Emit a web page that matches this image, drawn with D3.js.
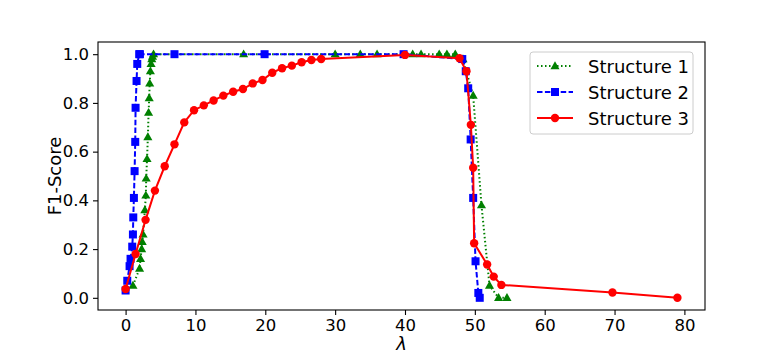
<!DOCTYPE html>
<html>
<head>
<meta charset="utf-8">
<script src="https://cdn.jsdelivr.net/npm/d3@7"></script>
<style>
  body { margin: 0; background: #fff; }
  text { font-family: "DejaVu Sans", sans-serif; }
</style>
</head>
<body>
<svg></svg>
<script>
// Structure 1 (green triangles)
const s1X = [1.05, 2.0, 2.14, 2.3, 2.38, 2.5, 2.76, 2.9, 2.95, 3.07, 3.19, 3.29, 3.38, 3.45, 3.55, 3.65, 3.75, 3.85, 4.0, 16.9, 30, 33.6, 36, 41.1, 42.3, 44.9, 46, 47.2, 48.3, 49.76, 50.95, 52.1, 53.4, 54.6];
const s1Y = [0.05, 0.12, 0.16, 0.2, 0.23, 0.26, 0.36, 0.42, 0.49, 0.57, 0.66, 0.76, 0.82, 0.88, 0.93, 0.96, 0.98, 0.99, 1.0, 1.0, 1.0, 1.0, 1.0, 1.0, 1.0, 1.0, 1.0, 1.0, 0.98, 0.83, 0.38, 0.05, 0.0, 0.0];

// Structure 2 (blue squares)
const s2X = [0, 0.24, 0.57, 0.71, 0.95, 1.05, 1.1, 1.19, 1.29, 1.38, 1.43, 1.57, 1.67, 1.95, 2.05, 7, 19.9, 39.8, 48.2, 48.7, 49.05, 49.4, 49.76, 50.1, 50.5, 50.7];
const s2Y = [0.03, 0.07, 0.13, 0.16, 0.21, 0.26, 0.33, 0.41, 0.52, 0.64, 0.78, 0.89, 0.96, 1.0, 1.0, 1.0, 1.0, 1.0, 0.98, 0.93, 0.86, 0.65, 0.41, 0.15, 0.02, 0.0];

// Structure 3 (red circles)
const s3X = [0, 1.43, 2.86, 4.2, 5.6, 7, 8.4, 9.8, 11.2, 12.6, 14, 15.4, 16.8, 18.2, 19.6, 21, 22.4, 23.8, 25.2, 26.6, 28, 40, 47.8, 48.8, 49.43, 49.76, 49.9, 51.76, 52.7, 53.8, 69.7, 79];
const s3Y = [0.036, 0.18, 0.32, 0.44, 0.54, 0.63, 0.72, 0.77, 0.79, 0.81, 0.83, 0.846, 0.857, 0.88, 0.894, 0.924, 0.942, 0.953, 0.967, 0.976, 0.98, 0.997, 0.983, 0.93, 0.71, 0.534, 0.224, 0.137, 0.087, 0.053, 0.022, 0.0];

const xTicks = [0, 10, 20, 30, 40, 50, 60, 70, 80];
const yTicks = [0.0, 0.2, 0.4, 0.6, 0.8, 1.0];

const series = [
  { name: "Structure 1", xs: s1X, ys: s1Y, color: "#008000", dash: "1.5,2.5", marker: "triangle" },
  { name: "Structure 2", xs: s2X, ys: s2Y, color: "#0000ff", dash: "5.5,2.4", marker: "square" },
  { name: "Structure 3", xs: s3X, ys: s3Y, color: "#ff0000", dash: null, marker: "circle" }
];

const W = 781, H = 355;
const mLeft = 98, mRight = 705, mTop = 42, mBottom = 310;

const svg = d3.select("svg").attr("width", W).attr("height", H);

const x = d3.scaleLinear().domain([-3.95, 82.95]).range([mLeft, mRight]);
const y = d3.scaleLinear().domain([-0.05, 1.05]).range([mBottom, mTop]);

// axes
const xAxis = svg.append("g")
  .attr("transform", `translate(0,${mBottom})`)
  .call(d3.axisBottom(x).tickValues(xTicks).tickFormat(d3.format("d")).tickSize(5).tickPadding(4));
const yAxis = svg.append("g")
  .attr("transform", `translate(${mLeft},0)`)
  .call(d3.axisLeft(y).tickValues(yTicks).tickFormat(d3.format(".1f")).tickSize(5).tickPadding(4));

[xAxis, yAxis].forEach(a => {
  a.select(".domain").remove();
  a.selectAll("line").attr("stroke", "#000").attr("stroke-width", 1.1);
  a.selectAll("text").attr("font-size", 16.5).attr("fill", "#000")
    .style("font-family", "DejaVu Sans, sans-serif");
});

svg.append("rect")
  .attr("x", mLeft).attr("y", mTop)
  .attr("width", mRight - mLeft).attr("height", mBottom - mTop)
  .attr("fill", "none").attr("stroke", "#000").attr("stroke-width", 1.1);

// axis labels
svg.append("text")
  .attr("x", (mLeft + mRight) / 2).attr("y", 350)
  .attr("text-anchor", "middle").attr("font-size", 18).attr("font-style", "italic")
  .text("λ");
svg.append("text")
  .attr("transform", `translate(61,${(mTop + mBottom) / 2}) rotate(-90)`)
  .attr("text-anchor", "middle").attr("font-size", 18)
  .text("F1-Score");

function drawMarker(g, type, color) {
  if (type === "circle") {
    g.append("circle").attr("r", 4.2).attr("fill", color);
  } else if (type === "square") {
    g.append("rect").attr("x", -4).attr("y", -4).attr("width", 8).attr("height", 8).attr("fill", color);
  } else {
    g.append("path").attr("d", d3.symbol().type(d3.symbolTriangle).size(36)()).attr("fill", color)
      .attr("transform", "translate(0,0.5)");
  }
}

const line = d3.line().x(d => x(d[0])).y(d => y(d[1]));

series.forEach(s => {
  const pts = s.xs.map((v, i) => [v, s.ys[i]]);
  svg.append("path")
    .attr("d", line(pts))
    .attr("fill", "none")
    .attr("stroke", s.color)
    .attr("stroke-width", 2)
    .attr("stroke-dasharray", s.dash);
  pts.forEach(p => {
    const g = svg.append("g").attr("transform", `translate(${x(p[0])},${y(p[1])})`);
    drawMarker(g, s.marker, s.color);
  });
});

// legend
const lg = svg.append("g").attr("transform", "translate(530,52)");
lg.append("rect").attr("width", 163).attr("height", 82).attr("rx", 3)
  .attr("fill", "#fff").attr("fill-opacity", 0.8).attr("stroke", "#ccc");
series.forEach((s, i) => {
  const yy = 14 + i * 26;
  lg.append("line").attr("x1", 7).attr("x2", 43).attr("y1", yy).attr("y2", yy)
    .attr("stroke", s.color).attr("stroke-width", 2).attr("stroke-dasharray", s.dash);
  const g = lg.append("g").attr("transform", `translate(25,${yy})`);
  drawMarker(g, s.marker, s.color);
  lg.append("text").attr("x", 58).attr("y", yy + 6.5).attr("font-size", 18).text(s.name);
});
</script>
</body>
</html>
